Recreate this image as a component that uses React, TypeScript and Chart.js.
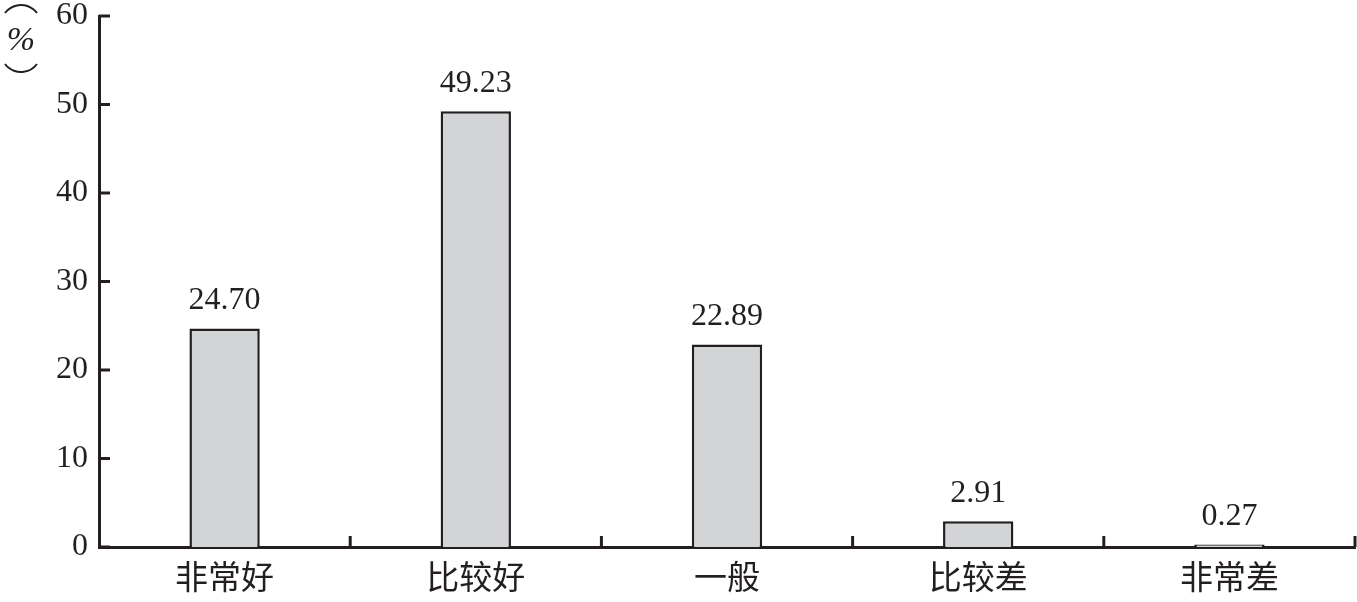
import React, { useEffect, useRef } from 'react';
import { Chart, registerables } from 'chart.js';
Chart.register(...registerables);

const categories = ['非常好', '比较好', '一般', '比较差', '非常差'];
const shares = [24.7, 49.23, 22.89, 2.91, 0.27];
const yTicks = [0, 10, 20, 30, 40, 50, 60];

const INK = '#231f20';
const NUM_FONT = '"Liberation Serif", "Times New Roman", serif';
const CJK_FONT = '"Noto Sans CJK SC", "Noto Sans", sans-serif';

// inward tick marks, value labels and the vertical unit label
const decorPlugin = {
    id: 'decor',
    afterDatasetsDraw(chart: any) {
        const ctx = chart.ctx;
        const x = chart.scales.x;
        const y = chart.scales.y;
        ctx.save();
        ctx.strokeStyle = INK;
        ctx.lineWidth = 3;
        yTicks.forEach((v) => {
            const py = y.getPixelForValue(v);
            ctx.beginPath();
            ctx.moveTo(x.left, py);
            ctx.lineTo(x.left + 11, py);
            ctx.stroke();
        });
        const step = x.width / categories.length;
        for (let i = 1; i <= categories.length; i++) {
            const px = x.left + i * step;
            ctx.beginPath();
            ctx.moveTo(px, y.bottom);
            ctx.lineTo(px, y.bottom - 11);
            ctx.stroke();
        }

        ctx.fillStyle = INK;
        ctx.font = '32px ' + NUM_FONT;
        ctx.textAlign = 'center';
        ctx.textBaseline = 'bottom';
        const meta = chart.getDatasetMeta(0);
        meta.data.forEach((bar: any, i: number) => {
            ctx.fillText(shares[i].toFixed(2), bar.x, bar.y - 12);
        });

        // unit label written top to bottom: bracket arcs around %
        ctx.textBaseline = 'middle';
        ctx.font = 'italic 34px ' + NUM_FONT;
        ctx.fillText('%', 21, 41);
        ctx.lineWidth = 2;
        const half = Math.asin(16 / 20);
        ctx.beginPath();
        ctx.arc(21, 25, 20, -Math.PI / 2 - half, -Math.PI / 2 + half);
        ctx.stroke();
        ctx.beginPath();
        ctx.arc(21, 52, 20, Math.PI / 2 - half, Math.PI / 2 + half);
        ctx.stroke();
        ctx.restore();
    }
};

const App: React.FC = () => {
    const chartRef = useRef<HTMLCanvasElement>(null);
    const chartInstance = useRef<Chart | null>(null);

    useEffect(() => {
        if (chartRef.current) {
            const ctx = chartRef.current.getContext('2d');
            if (ctx) {
                if (chartInstance.current) {
                    chartInstance.current.destroy();
                }

                chartInstance.current = new Chart(ctx, {
                    type: 'bar',
                    data: {
                        labels: categories,
                        datasets: [{
                            data: shares,
                            backgroundColor: '#d3d4d6',
                            borderColor: INK,
                            borderWidth: 2.5,
                            borderSkipped: 'bottom',
                            categoryPercentage: 1,
                            barPercentage: 0.28
                        }]
                    },
                    options: {
                        responsive: false,
                        animation: false,
                        layout: { padding: { top: 16, right: 2, left: 0, bottom: 0 } },
                        plugins: { legend: { display: false }, tooltip: { enabled: false } },
                        scales: {
                            x: {
                                grid: { display: false, drawTicks: false },
                                border: { color: INK, width: 3 },
                                ticks: {
                                    color: INK,
                                    padding: 10,
                                    font: { family: CJK_FONT, size: 33 }
                                },
                                afterFit: (scale: any) => {
                                    scale.height = 55;
                                    scale.paddingLeft = 0;
                                    scale.paddingRight = 0;
                                }
                            },
                            y: {
                                min: 0,
                                max: 60,
                                grid: { display: false, drawTicks: false },
                                border: { color: INK, width: 3 },
                                ticks: {
                                    stepSize: 10,
                                    color: INK,
                                    padding: 11,
                                    font: { family: NUM_FONT, size: 32 }
                                },
                                afterFit: (scale: any) => {
                                    scale.width = 99;
                                    scale.paddingTop = 0;
                                    scale.paddingBottom = 0;
                                }
                            }
                        }
                    },
                    plugins: [decorPlugin]
                });
            }
        }

        return () => {
            if (chartInstance.current) {
                chartInstance.current.destroy();
            }
        };
    }, []);

    return (
        <div style={{ position: 'absolute', left: 0, top: 0, width: 1357, height: 602, background: '#fff' }}>
            <canvas ref={chartRef} width={1357} height={602}></canvas>
        </div>
    );
};

export default App;
